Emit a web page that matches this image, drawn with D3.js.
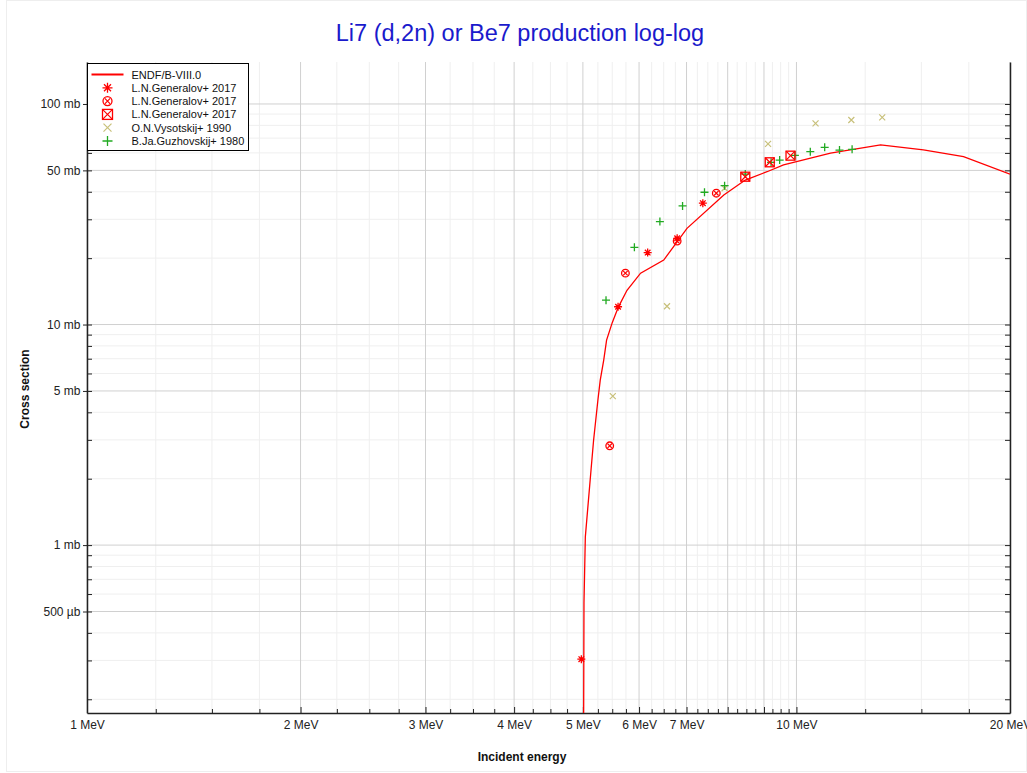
<!DOCTYPE html>
<html><head><meta charset="utf-8">
<script src="https://cdn.jsdelivr.net/npm/d3@7"></script>
<style>body{margin:0;background:#fff;font-family:"Liberation Sans",Arial,sans-serif}</style>
</head><body>
<svg id="c" width="1027" height="773"></svg>
<script>
// ENDF/B-VIII.0 curve (MeV, mb)
const endfE = [4.99, 5.018, 5.04, 5.134, 5.177, 5.25, 5.29, 5.35, 5.40, 5.50, 5.61, 5.77, 6.03, 6.50, 7.01, 7.90, 8.47, 9.09, 9.59, 11.17, 13.14, 15.1, 17.2, 20.0];
const endfS = [0.001, 0.546, 1.09, 2.19, 2.99, 4.55, 5.6, 6.9, 8.5, 10.2, 12.0, 14.3, 17.1, 19.6, 27.3, 38.7, 45.2, 49.3, 52.9, 59.9, 65.2, 61.9, 57.7, 48.1];
// L.N.Generalov+ 2017 (asterisk)
const gen1E = [4.975, 5.605, 6.17, 6.79, 7.38];
const gen1S = [0.304, 12.04, 21.2, 24.6, 35.5];
// L.N.Generalov+ 2017 (circle-cross)
const gen2E = [5.455, 5.74, 6.79, 7.71];
const gen2S = [2.82, 17.1, 23.9, 39.4];
// L.N.Generalov+ 2017 (box-cross)
const gen3E = [8.47, 9.17, 9.81];
const gen3S = [46.8, 54.4, 58.3];
// O.N.Vysotskij+ 1990
const vysE = [5.51, 6.57, 7.92, 9.12, 10.64, 11.95, 13.21];
const vysS = [4.74, 12.1, 41.5, 65.9, 81.7, 84.6, 87.0];
// B.Ja.Guzhovskij+ 1980
const guzE = [5.39, 5.91, 6.42, 6.91, 7.42, 7.92, 8.47, 9.21, 9.47, 9.95, 10.46, 10.96, 11.50, 11.98];
const guzS = [12.9, 22.4, 29.3, 34.5, 39.8, 42.6, 48.1, 54.4, 55.7, 58.5, 60.8, 63.6, 61.8, 62.3];

const xMajor = [1,2,3,4,5,6,7,8,9,10,20];
const xLabels = [1,2,3,4,5,6,7,10,20];
const yLabels = [0.5, 1, 5, 10, 50, 100];
const legendNames = ["ENDF/B-VIII.0","L.N.Generalov+ 2017","L.N.Generalov+ 2017","L.N.Generalov+ 2017","O.N.Vysotskij+ 1990","B.Ja.Guzhovskij+ 1980"];

const svg = d3.select("#c");
const L=87, R=1010, T=62, B=713;
const x = d3.scaleLog().domain([1,20]).range([L,R]);
const y = d3.scaleLog().domain([0.1733,155]).range([B,T]);

// outer faint frame
svg.append("rect").attr("x",6.5).attr("y",0.5).attr("width",1020).attr("height",771).attr("fill","none").attr("stroke","#eee");

// minor x ticks
const xMinor = [];
for (let d=1; d<10; d++) for (const f of [0.25,0.5,0.75]) xMinor.push(d+f);
xMinor.push(12.5,15,17.5);
const yMinor=[], yMaj=[];
for (const dec of [0.1,1,10,100]) for (let m=1;m<10;m++){ const v=dec*m; if(v>=0.1733&&v<=155){ if(yLabels.includes(+v.toFixed(4))) yMaj.push(v); else yMinor.push(v);} }

const g = svg.append("g");
g.selectAll(".xm").data(xMinor).join("line").attr("x1",d=>x(d)).attr("x2",d=>x(d)).attr("y1",T).attr("y2",B).attr("stroke","#efefef");
g.selectAll(".ym").data(yMinor).join("line").attr("x1",L).attr("x2",R).attr("y1",d=>y(d)).attr("y2",d=>y(d)).attr("stroke","#efefef");
g.selectAll(".xM").data(xMajor).join("line").attr("x1",d=>x(d)).attr("x2",d=>x(d)).attr("y1",T).attr("y2",B).attr("stroke","#d0d0d0");
g.selectAll(".yM").data(yMaj).join("line").attr("x1",L).attr("x2",R).attr("y1",d=>y(d)).attr("y2",d=>y(d)).attr("stroke","#d0d0d0");

// axes
const fmtX = d => xLabels.includes(d) ? d+" MeV" : "";
const xAxis = d3.axisBottom(x).tickValues(xMajor.concat(xMinor)).tickFormat(fmtX).tickSize(0);
const ax = svg.append("g").attr("transform",`translate(0,${B})`).call(xAxis);
ax.select(".domain").attr("stroke","#222").attr("stroke-width",1.5);
ax.selectAll(".tick line").attr("y2",d=>xMajor.includes(d)?-6:-4).attr("stroke","#222");
ax.selectAll(".tick text").attr("dy","1.1em").attr("font-size",12).attr("fill","#222").attr("font-family","Liberation Sans, Arial, sans-serif");

const fmtY = d => { const v=+d.toFixed(4); if(!yLabels.includes(v)) return ""; return v<1 ? (v*1000)+" µb" : v+" mb"; };
const yAxis = d3.axisLeft(y).tickValues(yMaj.concat(yMinor)).tickFormat(fmtY).tickSize(0);
const ay = svg.append("g").attr("transform",`translate(${L},0)`).call(yAxis);
ay.select(".domain").attr("stroke","#222").attr("stroke-width",1.5);
ay.selectAll(".tick line").attr("x1",d=>yLabels.includes(+d.toFixed(4))?-4:0).attr("x2",5).attr("stroke","#222");
ay.selectAll(".tick text").attr("dx","-0.3em").attr("font-size",12).attr("fill","#222").attr("font-family","Liberation Sans, Arial, sans-serif");

// right axis
const ar = svg.append("g").attr("transform",`translate(${R},0)`).call(d3.axisRight(y).tickValues(yMaj.concat(yMinor)).tickFormat("").tickSize(0));
ar.select(".domain").attr("stroke","#222").attr("stroke-width",1.5);
ar.selectAll(".tick line").attr("x2",-5).attr("stroke","#222");

// clip
svg.append("clipPath").attr("id","clip").append("rect").attr("x",L).attr("y",T).attr("width",R-L).attr("height",B-T);
const plot = svg.append("g").attr("clip-path","url(#clip)");

const endf = endfE.map((e,i)=>[e,endfS[i]]);
plot.append("path").datum(endf).attr("d",d3.line().x(d=>x(d[0])).y(d=>y(d[1]))).attr("fill","none").attr("stroke","#ff0000").attr("stroke-width",1.3);

const RED="#ff0000", OLIVE="#c8c07a", GREEN="#22aa22";
function asterisk(sel,c,s){ sel.append("path").attr("d",`M${-s},0H${s}M0,${-s}V${s}M${-s*0.7},${-s*0.7}L${s*0.7},${s*0.7}M${-s*0.7},${s*0.7}L${s*0.7},${-s*0.7}`).attr("stroke",c).attr("stroke-width",1.3).attr("fill","none"); }
function circx(sel,c,s){ sel.append("circle").attr("r",s).attr("stroke",c).attr("stroke-width",1.3).attr("fill","none"); const k=s*0.6; sel.append("path").attr("d",`M${-k},${-k}L${k},${k}M${-k},${k}L${k},${-k}`).attr("stroke",c).attr("stroke-width",1.2); }
function boxx(sel,c,s){ sel.append("rect").attr("x",-s).attr("y",-s).attr("width",2*s).attr("height",2*s).attr("stroke",c).attr("stroke-width",1.3).attr("fill","none"); sel.append("path").attr("d",`M${-s},${-s}L${s},${s}M${-s},${s}L${s},${-s}`).attr("stroke",c).attr("stroke-width",1.2); }
function xmark(sel,c,s){ sel.append("path").attr("d",`M${-s},${-s}L${s},${s}M${-s},${s}L${s},${-s}`).attr("stroke",c).attr("stroke-width",1.2); }
function plus(sel,c,s){ sel.append("path").attr("d",`M${-s},0H${s}M0,${-s}V${s}`).attr("stroke",c).attr("stroke-width",1.3); }

function series(E,S,fn,c,s){
  const pts = E.map((e,i)=>[e,S[i]]);
  plot.selectAll(null).data(pts).join("g").attr("transform",d=>`translate(${x(d[0])},${y(d[1])})`).each(function(){ fn(d3.select(this),c,s); });
}
series(vysE,vysS,xmark,OLIVE,3);
series(guzE,guzS,plus,GREEN,4);
series(gen3E,gen3S,boxx,RED,4.5);
series(gen2E,gen2S,circx,RED,3.8);
series(gen1E,gen1S,asterisk,RED,4);

// legend
const lg = svg.append("g").attr("transform","translate(87.5,63.5)");
lg.append("rect").attr("width",161).attr("height",87).attr("fill","#fff").attr("stroke","#000");
const fns=[null,asterisk,circx,boxx,xmark,plus], cols=[RED,RED,RED,RED,OLIVE,GREEN], sz=[0,5,4.5,5,4,5];
legendNames.forEach((n,i)=>{
  const yy=11+i*13.3;
  const gi=lg.append("g").attr("transform",`translate(20,${yy})`);
  if(i===0) gi.append("line").attr("x1",-16).attr("x2",16).attr("stroke",RED).attr("stroke-width",2);
  else fns[i](gi,cols[i],sz[i]);
  lg.append("text").attr("x",44).attr("y",yy+4).attr("font-size",11).attr("fill","#111").text(n);
});

// titles
svg.append("text").attr("x",520).attr("y",41).attr("text-anchor","middle").attr("font-size",23.5).attr("fill","#1a1acc").text("Li7 (d,2n) or Be7 production log-log");
svg.append("text").attr("x",522).attr("y",761).attr("text-anchor","middle").attr("font-size",12).attr("font-weight","bold").attr("fill","#111").text("Incident energy");
svg.append("text").attr("transform","translate(29,389) rotate(-90)").attr("text-anchor","middle").attr("font-size",12).attr("font-weight","bold").attr("fill","#111").text("Cross section");
</script>
</body></html>
